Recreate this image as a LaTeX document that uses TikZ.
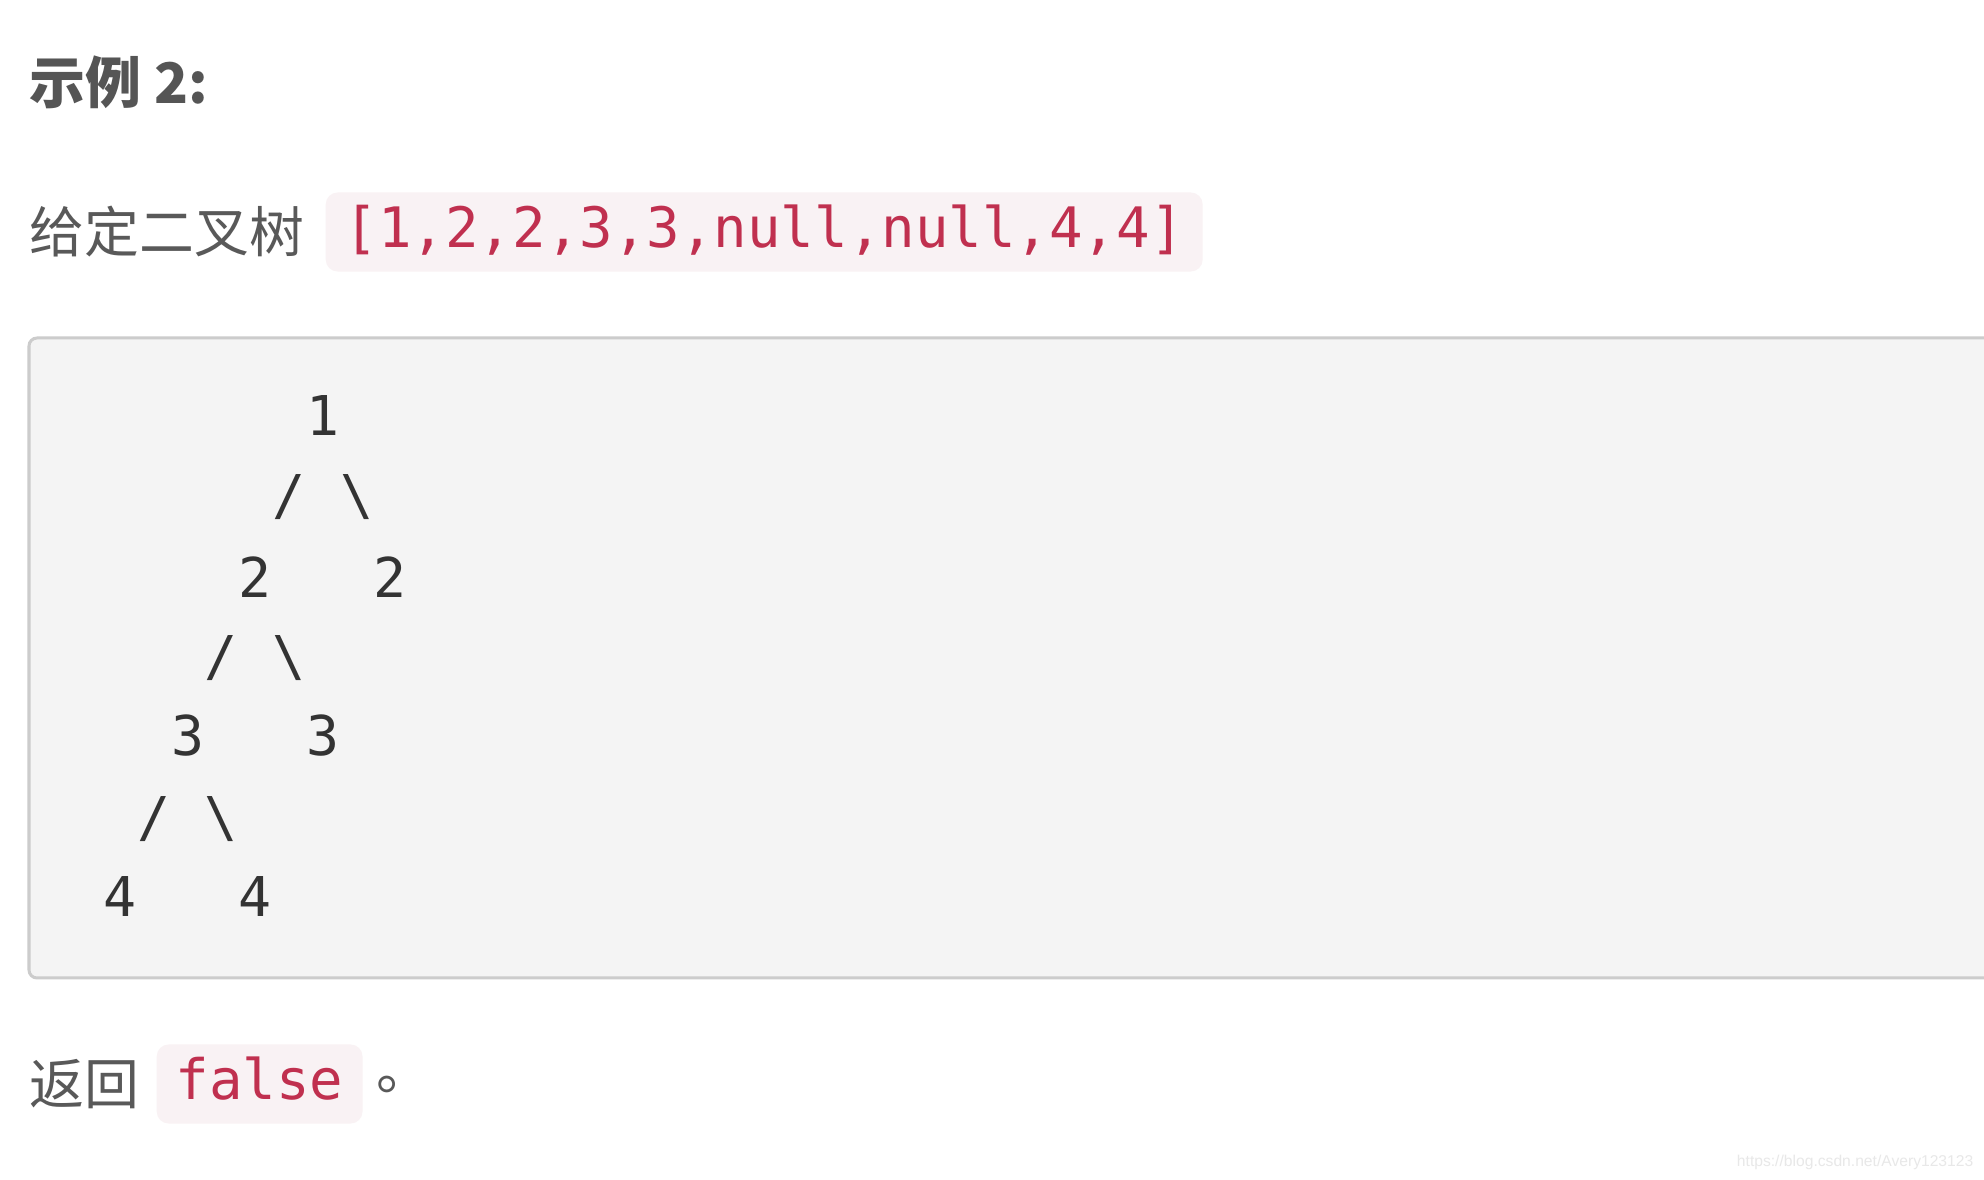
\documentclass[tikz,border=0pt]{standalone}
\usepackage{fontspec}
\setmonofont{DejaVu Sans Mono}
\newfontfamily\cjk{Noto Sans CJK SC}
\newfontfamily\wmfont{Liberation Sans}
\definecolor{textgray}{HTML}{595959}
\definecolor{headgray}{HTML}{555555}
\definecolor{codered}{HTML}{C0304F}
\definecolor{chipbg}{HTML}{F9F2F4}
\definecolor{boxbg}{HTML}{F4F4F4}
\definecolor{boxline}{HTML}{CCCCCC}
\definecolor{treegray}{HTML}{333333}
\definecolor{wmgray}{HTML}{E8E8E8}
\tikzset{
    txt/.style={anchor=west, inner sep=0pt, text=textgray, font=\cjk\fontsize{15.6}{18}\selectfont},
    head/.style={txt, text=headgray, font=\cjk\bfseries\fontsize{15.9}{18}\selectfont},
    chip/.style={anchor=west, fill=chipbg, rounded corners=0.12cm, text=codered,
        font=\ttfamily\fontsize{15.85}{18}\selectfont, inner xsep=0.19cm, inner ysep=0pt,
        text height=12pt, text depth=3pt, minimum height=0.79cm},
    tree/.style={inner sep=0pt, text=treegray, font=\ttfamily\fontsize{15.6}{18}\selectfont},
    codebox/.style={draw=boxline, line width=0.03cm, fill=boxbg, rounded corners=0.08cm},
    wm/.style={anchor=east, inner sep=0pt, text=wmgray, font=\wmfont\fontsize{4.45}{5}\selectfont}
}
\begin{document}
\begin{tikzpicture}[x=0.01cm,y=-0.01cm]
    \useasboundingbox (0,0) rectangle (1984,1180);
    \clip (0,0) rectangle (1984,1180);
    \fill[white] (0,0) rectangle (1984,1180);

    \node[head] (title) at (29,82) {示例 2:};

    \node[txt] (given) at (29,232) {给定二叉树};
    \node[chip] (arr) at (325,232) {[1,2,2,3,3,null,null,4,4]};

    \draw[codebox] (29,338) rectangle (2010,978);
    \node[tree] (n1) at (120+6*33.8,416) {1};
    \node[tree] (s1l) at (120+5*33.8,497) {/};
    \node[tree] (s1r) at (120+7*33.8,497) {\textbackslash};
    \node[tree] (n2l) at (120+4*33.8,577) {2};
    \node[tree] (n2r) at (120+8*33.8,577) {2};
    \node[tree] (s2l) at (120+3*33.8,658) {/};
    \node[tree] (s2r) at (120+5*33.8,658) {\textbackslash};
    \node[tree] (n3l) at (120+2*33.8,736) {3};
    \node[tree] (n3r) at (120+6*33.8,736) {3};
    \node[tree] (s3l) at (120+1*33.8,819) {/};
    \node[tree] (s3r) at (120+3*33.8,819) {\textbackslash};
    \node[tree] (n4l) at (120,897) {4};
    \node[tree] (n4r) at (120+4*33.8,897) {4};

    \node[txt] (ret) at (29,1084) {返回};
    \node[chip] (res) at (156,1084) {false};
    \node[txt] (stop) at (376,1084) {。};

    \node[wm] (url) at (1974,1162) {https://blog.csdn.net/Avery123123};
\end{tikzpicture}
\end{document}
